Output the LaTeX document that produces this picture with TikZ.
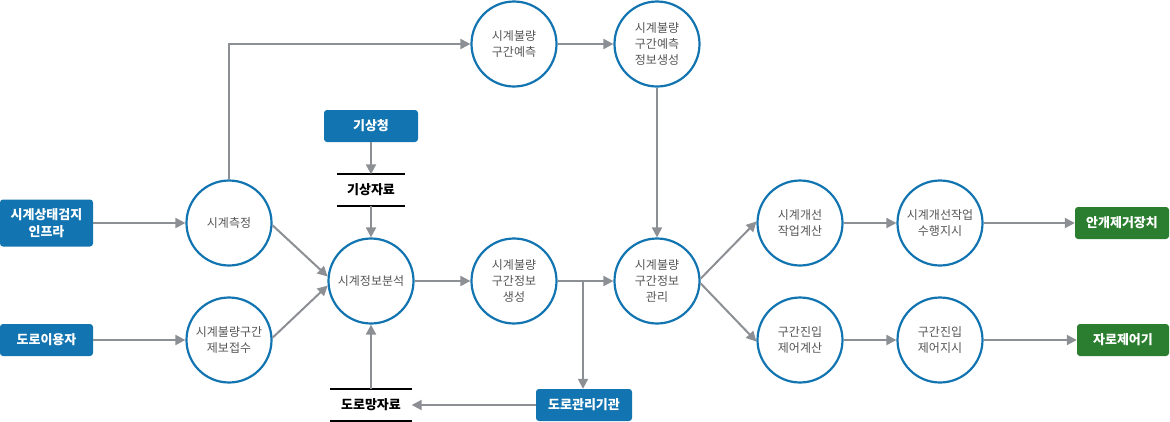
\documentclass[tikz,border=0pt]{standalone}
\usepackage{fontspec}
\setmainfont{Noto Sans CJK KR}
\usetikzlibrary{arrows.meta, positioning, calc}
\definecolor{cblue}{HTML}{1274B0}
\definecolor{cgreen}{HTML}{2B7E2F}
\definecolor{cgray}{HTML}{8C8F93}
\definecolor{ctext}{HTML}{555555}
\begin{document}
\begin{tikzpicture}[
    x=1pt, y=-1pt,
    proc/.style={circle, draw=cblue, line width=2.2pt, minimum size=85pt, inner sep=0pt, align=center, text=ctext, font=\fontsize{12}{16}\selectfont},
    ext/.style={rectangle, rounded corners=3pt, fill=cblue, text=white, minimum width=94pt, minimum height=32pt, inner sep=0pt, align=center, font=\bfseries\fontsize{13}{17}\selectfont},
    sink/.style={ext, fill=cgreen},
    store/.style={rectangle, minimum width=68pt, minimum height=31pt, inner sep=0pt, font=\bfseries\fontsize{13}{17}\selectfont},
    flow/.style={-{Triangle[length=10pt,width=10pt]}, draw=cgray, line width=2pt}
    ]
    \useasboundingbox (0,0) rectangle (1170,421);

    % Sources
    \node[ext, minimum width=93pt, minimum height=47pt] (infra) at (46.5,223) {시계상태검지\\인프라};
    \node[ext, minimum width=93pt] (user) at (46.5,340) {도로이용자};
    \node[ext] (kma) at (371,126) {기상청};
    \node[ext, minimum width=96pt] (road) at (584,405) {도로관리기관};

    % Data stores
    \node[store] (wx) at (371,190) {기상자료};
    \draw[line width=2pt] (wx.north west) -- (wx.north east);
    \draw[line width=2pt] (wx.south west) -- (wx.south east);
    \node[store, minimum width=81pt] (net) at (371,405) {도로망자료};
    \draw[line width=2pt] (net.north west) -- (net.north east);
    \draw[line width=2pt] (net.south west) -- (net.south east);

    % Processes
    \node[proc] (meas) at (229,223) {시계측정};
    \node[proc] (report) at (229,340) {시계불량구간\\제보접수};
    \node[proc] (anal) at (371,281) {시계정보분석};
    \node[proc] (gen) at (514,281) {시계불량\\구간정보\\생성};
    \node[proc] (pred) at (514,44) {시계불량\\구간예측};
    \node[proc] (predgen) at (657,44) {시계불량\\구간예측\\정보생성};
    \node[proc] (mgmt) at (657,281) {시계불량\\구간정보\\관리};
    \node[proc] (calc) at (800,223) {시계개선\\작업계산};
    \node[proc] (order) at (940,223) {시계개선작업\\수행지시};
    \node[proc] (entry) at (800,340) {구간진입\\제어계산};
    \node[proc] (ctrl) at (940,340) {구간진입\\제어지시};

    % Sinks
    \node[sink] (fog) at (1122,223) {안개제거장치};
    \node[sink, minimum width=92pt] (lane) at (1123,340) {자로제어기};

    % Left side flows
    \draw[flow] (infra) -- (meas);
    \draw[flow] (user) -- (report);
    \draw[flow] (meas.-3) -- (anal.174);
    \draw[flow] (report.3) -- (anal.186);
    \draw[flow] (meas.north) |- (pred.west);
    \draw[flow] (kma) -- (wx.north);
    \draw[flow] (wx.south) -- (anal);
    \draw[flow] (net.north) -- (anal);

    % Prediction branch
    \draw[flow] (pred) -- (predgen);
    \draw[flow] (predgen) -- (mgmt);

    % Middle flows
    \draw[flow] (anal) -- (gen);
    \draw[flow] (gen) -- (mgmt);
    \coordinate (br) at (583,281);
    \draw[flow] (br) -- (br |- road.north);
    \draw[flow] (road) -- (net.east);

    % Right side flows
    \draw[flow] (mgmt.3) -- (calc.178);
    \draw[flow] (mgmt.-3) -- (entry.182);
    \draw[flow] (calc) -- (order);
    \draw[flow] (entry) -- (ctrl);
    \draw[flow] (order) -- (fog);
    \draw[flow] (ctrl) -- (lane);
\end{tikzpicture}
\end{document}
